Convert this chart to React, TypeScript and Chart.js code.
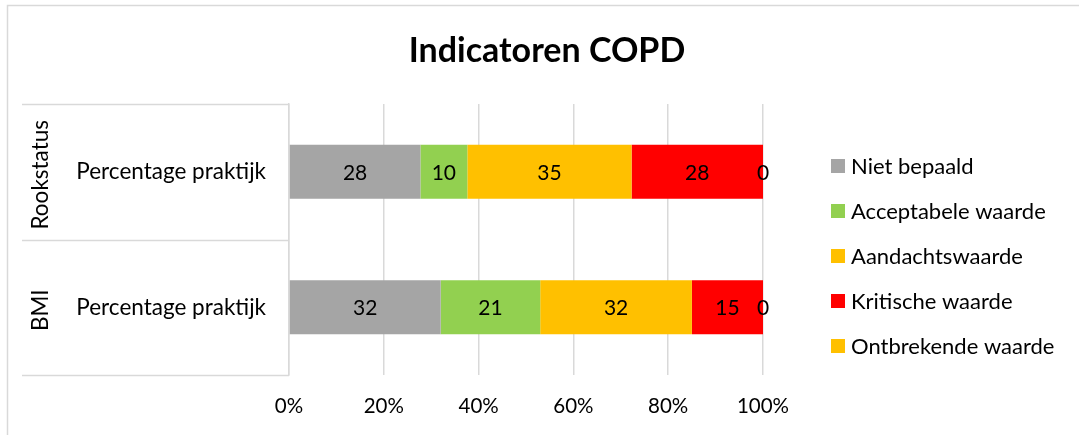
import React, { useEffect, useRef } from 'react';
import { Chart, registerables } from 'chart.js';

Chart.register(...registerables);

const titleText = 'Indicatoren COPD';
const groups = ['Rookstatus', 'BMI'];
const categories = ['Percentage praktijk', 'Percentage praktijk'];
const seriesNames = ['Niet bepaald', 'Acceptabele waarde', 'Aandachtswaarde', 'Kritische waarde', 'Ontbrekende waarde'];
const nietBepaald = [28, 32];
const acceptabel = [10, 21];
const aandacht = [35, 32];
const kritisch = [28, 15];
const ontbrekend = [0, 0];
const xTickLabels = ['0%', '20%', '40%', '60%', '80%', '100%'];
const seriesColors = ['#A5A5A5', '#92D050', '#FFC000', '#FF0000', '#FFC000'];

const FONT = 'Lato';
const W = 1079;
const H = 435;

const rawSeries = [nietBepaald, acceptabel, aandacht, kritisch, ontbrekend];
const totals = categories.map((_, i) => rawSeries.reduce((s, arr) => s + arr[i], 0));

const decorPlugin = {
  id: 'decor',
  beforeDraw(chart: any) {
    const ctx = chart.ctx;
    ctx.save();
    ctx.fillStyle = '#ffffff';
    ctx.fillRect(0, 0, chart.width, chart.height);
    ctx.strokeStyle = '#D9D9D9';
    ctx.lineWidth = 1.5;
    ctx.beginPath();
    ctx.moveTo(7.5, chart.height);
    ctx.lineTo(7.5, 5.5);
    ctx.lineTo(chart.width, 5.5);
    ctx.stroke();
    // title
    ctx.fillStyle = '#000000';
    ctx.font = `bold 34px ${FONT}`;
    ctx.textAlign = 'center';
    ctx.textBaseline = 'middle';
    ctx.fillText(titleText, 547, 51);
    ctx.restore();
  },
  afterDraw(chart: any) {
    const ctx = chart.ctx;
    const y = chart.scales.y;
    const area = chart.chartArea;
    ctx.save();
    // category separators
    const c0 = y.getPixelForValue(0);
    const c1 = y.getPixelForValue(1);
    const step = c1 - c0;
    const bounds = [c0 - step / 2, (c0 + c1) / 2, c1 + step / 2];
    ctx.strokeStyle = '#D9D9D9';
    ctx.lineWidth = 1.5;
    bounds.forEach((b) => {
      ctx.beginPath();
      ctx.moveTo(22, Math.round(b) + 0.5);
      ctx.lineTo(area.left, Math.round(b) + 0.5);
      ctx.stroke();
    });
    // group labels (rotated)
    ctx.fillStyle = '#000000';
    ctx.font = `22.5px ${FONT}`;
    ctx.textAlign = 'center';
    ctx.textBaseline = 'middle';
    groups.forEach((g, i) => {
      const cy = y.getPixelForValue(i);
      ctx.save();
      ctx.translate(41, cy + 3);
      ctx.rotate(-Math.PI / 2);
      ctx.fillText(g, 0, 0);
      ctx.restore();
    });
    // data labels
    ctx.font = `21px ${FONT}`;
    chart.data.datasets.forEach((ds: any, di: number) => {
      const meta = chart.getDatasetMeta(di);
      meta.data.forEach((el: any, i: number) => {
        const cx = (el.x + el.base) / 2;
        ctx.fillText(String(rawSeries[di][i]), cx, el.y + 1);
      });
    });
    // legend
    ctx.textAlign = 'left';
    ctx.font = `22px ${FONT}`;
    seriesNames.forEach((name, i) => {
      const cy = 166 + i * 44.9;
      ctx.fillStyle = seriesColors[i];
      ctx.fillRect(831, Math.round(cy - 7), 14, 14);
      ctx.fillStyle = '#000000';
      ctx.fillText(name, 851, cy + 1);
    });
    ctx.restore();
  },
};

export default function App() {
  const ref = useRef<HTMLCanvasElement | null>(null);
  useEffect(() => {
    if (!ref.current) return;
    const chart = new Chart(ref.current, {
      type: 'bar',
      data: {
        labels: categories,
        datasets: rawSeries.map((arr, di) => ({
          label: seriesNames[di],
          data: arr.map((v, i) => (v / totals[i]) * 100),
          backgroundColor: seriesColors[di],
          borderWidth: 0,
          barPercentage: 0.4,
          categoryPercentage: 1,
        })),
      },
      options: {
        indexAxis: 'y',
        responsive: false,
        animation: false,
        devicePixelRatio: 1,
        layout: { padding: { left: 22, right: 316, top: 104, bottom: 0 } },
        plugins: {
          legend: { display: false },
          title: { display: false },
          tooltip: { enabled: false },
        },
        scales: {
          x: {
            stacked: true,
            min: 0,
            max: 100,
            ticks: {
              stepSize: 20,
              padding: 19,
              color: '#000000',
              font: { family: FONT, size: 20.5 },
              callback: (_v: any, idx: number) => xTickLabels[idx],
            },
            grid: { color: '#D9D9D9', lineWidth: 1.5, drawTicks: false },
            border: { display: false },
            afterFit: (s: any) => { s.height = 60; },
          },
          y: {
            stacked: true,
            ticks: {
              padding: 23,
              color: '#000000',
              font: { family: FONT, size: 22.5 },
            },
            grid: { display: false, drawTicks: false },
            border: { display: true, color: '#D9D9D9', width: 1.5 },
            afterFit: (s: any) => { s.width = 267; },
          },
        },
      },
      plugins: [decorPlugin],
    });
    return () => chart.destroy();
  }, []);
  return (
    <div style={{ position: 'absolute', left: 0, top: 0, width: W, height: H, background: '#fff' }}>
      <canvas ref={ref} width={W} height={H} style={{ display: 'block', width: W, height: H }} />
    </div>
  );
}
